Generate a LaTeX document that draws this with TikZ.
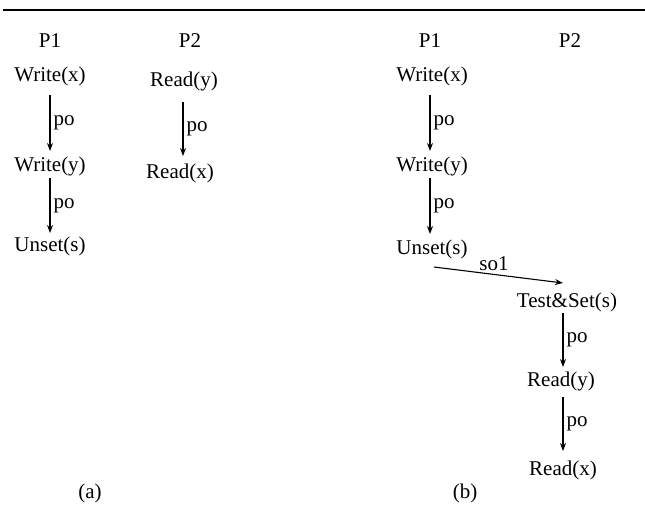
\documentclass[tikz,border=0pt]{standalone}
\usepackage{fontspec}
\setmainfont{Liberation Serif}
\usetikzlibrary{arrows.meta}
\begin{document}
\begin{tikzpicture}[x=1pt,y=-1pt,
  lbl/.style={inner sep=0pt,font=\fontsize{21}{24}\selectfont},
  po/.style={draw,line width=1.1pt,-{Stealth[length=8pt,width=6pt]}},
  polabel/.style={right,inner sep=0pt,xshift=3pt,font=\fontsize{21}{24}\selectfont}]
\useasboundingbox (0,0) rectangle (645,519);
\draw[line width=1.2pt] (3,10) -- (645,10);
% (a)
\node[lbl] (aP1) at (50,41) {P1};
\node[lbl] (aP2) at (190,41) {P2};
\node[lbl] (aw1) at (50,76) {Write(x)};
\node[lbl] (aw2) at (50,166) {Write(y)};
\node[lbl] (au) at (50,246) {Unset(s)};
\node[lbl] (ar1) at (184,81) {Read(y)};
\node[lbl] (ar2) at (180,173) {Read(x)};
\coordinate (a1s) at (50,95); \coordinate (a1e) at (50,151);
\coordinate (a2s) at (50,178); \coordinate (a2e) at (50,233);
\coordinate (a3s) at (183,102); \coordinate (a3e) at (183,156);
\path[po] (a1s) -- node[polabel] {po} (a1e);
\path[po] (a2s) -- node[polabel] {po} (a2e);
\path[po] (a3s) -- node[polabel] {po} (a3e);
\node[lbl] (capa) at (90,493) {(a)};
% (b)
\node[lbl] (bP1) at (430,41) {P1};
\node[lbl] (bP2) at (570,41) {P2};
\node[lbl] (bw1) at (432,76) {Write(x)};
\node[lbl] (bw2) at (432,166) {Write(y)};
\node[lbl] (bu) at (432,249) {Unset(s)};
\node[lbl] (bts) at (567,302) {Test\&Set(s)};
\node[lbl] (br1) at (561,381) {Read(y)};
\node[lbl] (br2) at (563,470) {Read(x)};
\coordinate (b1s) at (430,95); \coordinate (b1e) at (430,151);
\coordinate (b2s) at (430,178); \coordinate (b2e) at (430,234);
\coordinate (sos) at (434,267); \coordinate (soe) at (563,283);
\coordinate (b3s) at (563,313); \coordinate (b3e) at (563,367);
\coordinate (b4s) at (563,397); \coordinate (b4e) at (563,451);
\path[po] (b1s) -- node[polabel] {po} (b1e);
\path[po] (b2s) -- node[polabel] {po} (b2e);
\path[po] (sos) -- (soe);
\node[lbl] (so) at (494,264) {so1};
\path[po] (b3s) -- node[polabel] {po} (b3e);
\path[po] (b4s) -- node[polabel] {po} (b4e);
\node[lbl] (capb) at (465,493) {(b)};
\end{tikzpicture}
\end{document}
